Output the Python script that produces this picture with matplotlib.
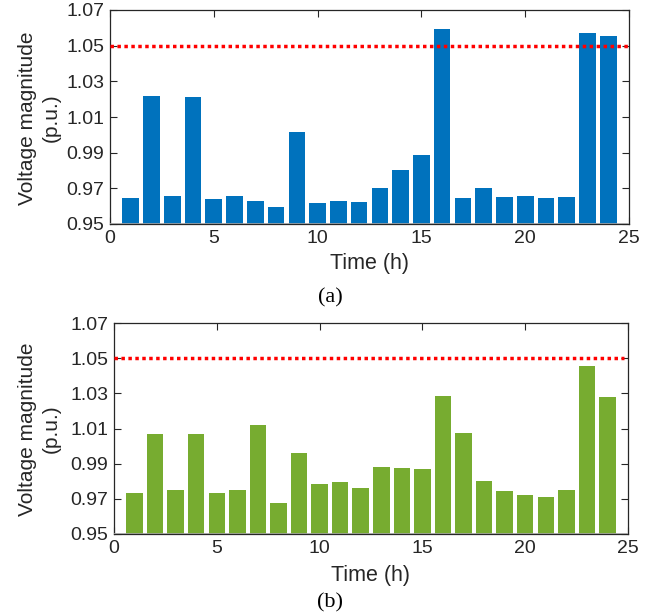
import matplotlib.pyplot as plt
import numpy as np

plt.rcParams['font.family'] = ['Liberation Sans', 'DejaVu Sans']

hours = np.arange(1, 25)
# voltage magnitude per hour, case (a) and case (b)
volt_a = [0.9647, 1.0219, 0.9659, 1.0213, 0.9642, 0.9659, 0.9631, 0.9597,
          1.0017, 0.9619, 0.9631, 0.9625, 0.9703, 0.9804, 0.9888, 1.0594,
          0.9647, 0.9703, 0.9653, 0.9659, 0.9647, 0.9653, 1.0571, 1.0554]
volt_b = [0.9731, 1.0066, 0.9748, 1.0066, 0.9736, 0.9748, 1.0118, 0.9674,
          0.9958, 0.9782, 0.9793, 0.9759, 0.9879, 0.9873, 0.9867, 1.0283,
          1.0072, 0.9799, 0.9742, 0.9719, 0.9713, 0.9753, 1.0453, 1.0277]
v_limit = 1.05
yticks = [0.95, 0.97, 0.99, 1.01, 1.03, 1.05, 1.07]
xticks = [0, 5, 10, 15, 20, 25]

W, H = 664, 616
fig = plt.figure(figsize=(W / 100, H / 100), dpi=100)


def panel(box, values, color, line_end, tag, xlab_y, tag_y, ylab_y):
    l, t, r, b = box
    ax = fig.add_axes([l / W, 1 - b / H, (r - l) / W, (b - t) / H])
    ax.bar(hours, np.array(values) - 0.95, bottom=0.95, width=0.8,
           color=color, zorder=2)
    ax.axhline(0.95, color='#a0a0a0', lw=1.2, zorder=3)
    ax.hlines(v_limit, 0, line_end, colors='red', linestyles=(0, (1, 1)),
              lw=2.5, zorder=4)
    ax.set_xlim(0, 25)
    ax.set_ylim(0.95, 1.07)
    ax.set_xticks(xticks)
    ax.set_yticks(yticks)
    ax.set_yticklabels([f'{v:.2f}' for v in yticks])
    ax.tick_params(direction='in', top=True, right=True, labelsize=14,
                   length=5, width=0.8, colors='#262626', pad=4)
    for s in ax.spines.values():
        s.set_color('#262626')
        s.set_linewidth(0.9)
    cx = (l + r) / 2
    fig.text(cx / W, 1 - xlab_y / H, 'Time (h)', ha='center', va='center',
             fontsize=15.5, color='#262626')
    fig.text(330 / W, 1 - tag_y / H, tag, ha='center', va='center',
             fontsize=16, family='Liberation Serif')
    fig.text(39 / W, 1 - ylab_y / H, 'Voltage magnitude\n(p.u.)',
             ha='center', va='center', rotation=90, fontsize=15,
             color='#262626', linespacing=1.3)
    return ax


panel((110, 10, 629, 224), volt_a, '#0072BD', 25, '(a)', 263, 298, 118)
panel((114, 323, 628, 534), volt_b, '#77AC30', 24.8, '(b)', 575, 603, 429)

fig.savefig('out.png', dpi=100)
